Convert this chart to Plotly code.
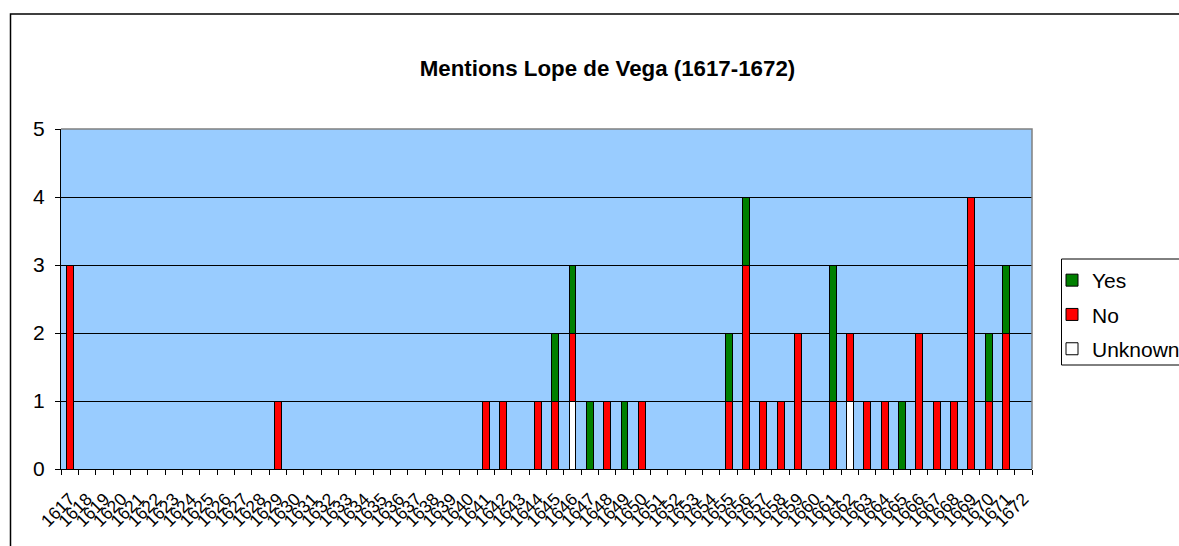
import plotly.graph_objects as go

years = ["1617", "1618", "1619", "1620", "1621", "1622", "1623", "1624", "1625", "1626",
         "1627", "1628", "1629", "1630", "1631", "1632", "1633", "1634", "1635", "1636",
         "1637", "1638", "1639", "1640", "1641", "1642", "1643", "1644", "1645", "1646",
         "1647", "1648", "1649", "1650", "1651", "1652", "1653", "1654", "1655", "1656",
         "1657", "1658", "1659", "1660", "1661", "1662", "1663", "1664", "1665", "1666",
         "1667", "1668", "1669", "1670", "1671", "1672"]

yes_vals = [0, 0, 0, 0, 0, 0, 0, 0, 0, 0,
            0, 0, 0, 0, 0, 0, 0, 0, 0, 0,
            0, 0, 0, 0, 0, 0, 0, 0, 1, 1,
            1, 0, 1, 0, 0, 0, 0, 0, 1, 1,
            0, 0, 0, 0, 2, 0, 0, 0, 1, 0,
            0, 0, 0, 1, 1, 0]

no_vals = [3, 0, 0, 0, 0, 0, 0, 0, 0, 0,
           0, 0, 1, 0, 0, 0, 0, 0, 0, 0,
           0, 0, 0, 0, 1, 1, 0, 1, 1, 1,
           0, 1, 0, 1, 0, 0, 0, 0, 1, 3,
           1, 1, 2, 0, 1, 1, 1, 1, 0, 2,
           1, 1, 4, 1, 2, 0]

unknown_vals = [0, 0, 0, 0, 0, 0, 0, 0, 0, 0,
                0, 0, 0, 0, 0, 0, 0, 0, 0, 0,
                0, 0, 0, 0, 0, 0, 0, 0, 0, 1,
                0, 0, 0, 0, 0, 0, 0, 0, 0, 0,
                0, 0, 0, 0, 0, 1, 0, 0, 0, 0,
                0, 0, 0, 0, 0, 0]

FONT = "Liberation Sans, Arial, sans-serif"
W, H = 1179, 546
L, R, T, B = 61, 1032, 129, 469


def nz(v):
    return [x if x else None for x in v]


fig = go.Figure()
for name, vals, color, rank in [("Unknown", unknown_vals, "#FFFFFF", 3),
                                ("No", no_vals, "#FF0000", 2),
                                ("Yes", yes_vals, "#008000", 1)]:
    fig.add_trace(go.Bar(
        x=years, y=nz(vals), name=name, legendgroup=name, legendrank=rank,
        marker=dict(color=color, line=dict(color="#000000", width=1)),
    ))

pw = R - L
ph = B - T


def px_x(x):
    return (x - L) / pw


def px_y(y):
    return (B - y) / ph


fig.update_layout(
    width=W, height=H,
    barmode="stack", bargap=0.6,
    paper_bgcolor="#FFFFFF", plot_bgcolor="#99CCFF",
    margin=dict(l=L, r=W - R, t=T, b=H - B, autoexpand=False),
    font=dict(family=FONT, color="#000000"),
    title=dict(text="<b>Mentions Lope de Vega (1617-1672)</b>",
               x=px_x(607.5), xref="paper", xanchor="center",
               y=1 - 68.5 / H, yref="container", yanchor="middle",
               font=dict(size=22.3, family=FONT, color="#000000")),
    legend=dict(x=px_x(1052), y=px_y(260), xanchor="left", yanchor="top",
                xref="paper", yref="paper",
                bgcolor="rgba(0,0,0,0)", borderwidth=0,
                font=dict(size=21, family=FONT), traceorder="grouped",
                tracegroupgap=4, itemwidth=30),
    showlegend=True,
)

fig.update_xaxes(
    type="category", tickmode="linear", dtick=1, tickangle=-45,
    tickson="boundaries", ticks="outside", ticklen=5, tickcolor="#000000",
    showline=True, linecolor="#000000", linewidth=1,
    showgrid=False, tickfont=dict(size=17.5, family=FONT), ticklabelstandoff=12,
)
fig.update_yaxes(
    range=[0, 5], dtick=1, ticks="outside", ticklen=5, tickcolor="#000000",
    showline=True, linecolor="#000000", linewidth=1,
    showgrid=True, gridcolor="#000000", gridwidth=1, zeroline=False,
    tickfont=dict(size=21, family=FONT), ticklabelstandoff=6,
)

# gray top/right border of plot area
fig.add_shape(type="path", xref="paper", yref="paper",
              path="M 0,1 L 1,1 L 1,0", line=dict(color="#808080", width=1.5))
# outer chart frame
fig.add_shape(type="rect", xref="paper", yref="paper",
              x0=px_x(10.5), x1=px_x(1260), y0=px_y(620), y1=px_y(14),
              line=dict(color="#000000", width=1.5), layer="above")
# legend box
fig.add_shape(type="rect", xref="paper", yref="paper",
              x0=px_x(1061.5), x1=px_x(1260), y0=px_y(365), y1=px_y(259),
              line=dict(color="#000000", width=1), fillcolor="#FFFFFF", layer="above")

fig.write_html("out.html", config={"displayModeBar": False},
               post_script="document.body.style.margin='0';document.body.style.overflow='hidden';")
